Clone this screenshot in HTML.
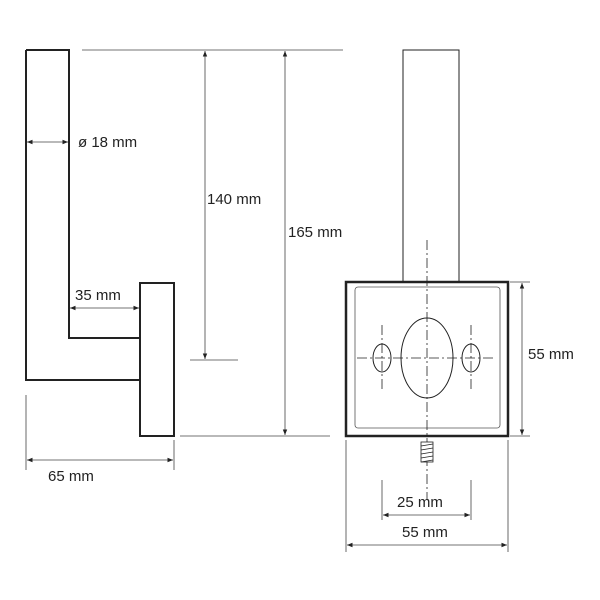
<!DOCTYPE html><html><head><style>body{margin:0;background:#fff}svg{display:block}text{font-family:"Liberation Sans",sans-serif;font-size:15px;fill:#222}</style></head><body>
<svg width="600" height="600" viewBox="0 0 600 600">
<defs><marker id="a" viewBox="0 0 10 10" refX="10" refY="5" markerWidth="7" markerHeight="7" orient="auto-start-reverse"><path d="M0,1 L10,5 L0,9z" fill="#222"/></marker></defs>
<g fill="none" stroke="#222">
<path d="M26,50 H69 V338 H140 M140,380 H26 V50" stroke-width="2"/>
<rect x="140" y="283" width="34" height="153" stroke-width="2"/>
<g stroke-width="0.8" stroke="#444">
<line x1="82" y1="50" x2="343" y2="50"/>
<line x1="190" y1="360" x2="238" y2="360"/>
<line x1="180" y1="436" x2="330" y2="436"/>
<line x1="26" y1="395" x2="26" y2="470"/>
<line x1="174" y1="440" x2="174" y2="470"/>
<line x1="205" y1="51" x2="205" y2="359" marker-start="url(#a)" marker-end="url(#a)"/>
<line x1="285" y1="51" x2="285" y2="435" marker-start="url(#a)" marker-end="url(#a)"/>
<line x1="27" y1="460" x2="173" y2="460" marker-start="url(#a)" marker-end="url(#a)"/>
<line x1="70" y1="308" x2="139" y2="308" marker-start="url(#a)" marker-end="url(#a)"/>
<line x1="27" y1="142" x2="68" y2="142" marker-start="url(#a)" marker-end="url(#a)"/>
<line x1="510" y1="282" x2="530" y2="282"/>
<line x1="510" y1="436" x2="530" y2="436"/>
<line x1="522" y1="283" x2="522" y2="435" marker-start="url(#a)" marker-end="url(#a)"/>
<line x1="382" y1="480" x2="382" y2="520"/>
<line x1="471" y1="480" x2="471" y2="520"/>
<line x1="346" y1="440" x2="346" y2="552"/>
<line x1="508" y1="440" x2="508" y2="552"/>
<line x1="383" y1="515" x2="470" y2="515" marker-start="url(#a)" marker-end="url(#a)"/>
<line x1="347" y1="545" x2="507" y2="545" marker-start="url(#a)" marker-end="url(#a)"/>
</g>
<rect x="403" y="50" width="56" height="232" stroke-width="1"/>
<rect x="346" y="282" width="162" height="154" stroke-width="2.5"/>
<rect x="355" y="287" width="145" height="141" rx="3" stroke-width="0.8" stroke="#555"/>
<ellipse cx="427" cy="358" rx="26" ry="40" stroke-width="1"/>
<ellipse cx="382" cy="358" rx="9" ry="14" stroke-width="1"/>
<ellipse cx="471" cy="358" rx="9" ry="14" stroke-width="1"/>
<g stroke-width="0.8" stroke-dasharray="10,3,2,3">
<line x1="427" y1="240" x2="427" y2="500"/>
<line x1="357" y1="358" x2="496" y2="358"/>
<line x1="382" y1="325" x2="382" y2="392"/>
<line x1="471" y1="325" x2="471" y2="392"/>
</g>
<rect x="421" y="442" width="12" height="20" stroke-width="0.8" fill="#fff"/>
<path d="M421,446 L433,444 M421,450 L433,448 M421,454 L433,452 M421,458 L433,456 M421,462 L433,460" stroke-width="0.7"/>
</g>
<text x="78" y="147">ø 18 mm</text>
<text x="207" y="204">140 mm</text>
<text x="288" y="237">165 mm</text>
<text x="75" y="300">35 mm</text>
<text x="48" y="481">65 mm</text>
<text x="528" y="359">55 mm</text>
<text x="397" y="507">25 mm</text>
<text x="402" y="537">55 mm</text>
</svg></body></html>
